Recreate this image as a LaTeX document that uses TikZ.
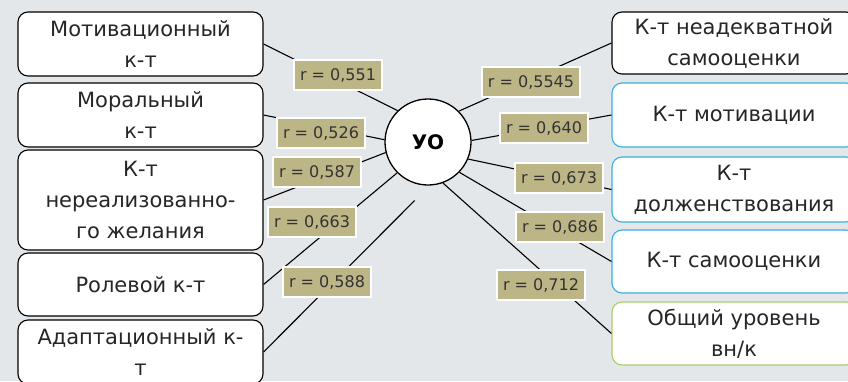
\documentclass[tikz,border=0pt]{standalone}
\usepackage{fontspec}
\setmainfont{DejaVu Sans}
\usepackage{xcolor}

\definecolor{olivebox}{RGB}{188,182,134}
\definecolor{skyline}{RGB}{58,174,222}
\definecolor{greenline}{RGB}{166,206,106}
\definecolor{bggray}{RGB}{228,231,234}

\begin{document}
\begin{tikzpicture}[x=1pt, y=-1pt,
    factor/.style={draw, rounded corners=10pt, fill=white, line width=1.1pt, minimum width=245pt, align=center, inner sep=0pt, font=\fontsize{21}{31}\selectfont, text=black!85},
    rval/.style={draw=white, line width=1.6pt, fill=olivebox, minimum height=30pt, inner xsep=6pt, font=\fontsize{16}{18}\selectfont, text=black!80},
    link/.style={line width=1.1pt}]

    % canvas
    \useasboundingbox (0,0) rectangle (848,381);
    \fill[bggray] (0,0) rectangle (848,381);
    \clip (0,0) rectangle (848,381);

    % centre node
    \node[circle, draw, fill=white, line width=1.3pt, minimum size=86pt, font=\fontsize{20}{22}\selectfont\bfseries] (uo) at (428,142) {УО};

    % left column
    \node[factor, minimum height=64pt] (motiv) at (140.5,44) {Мотивационный\\к-т};
    \node[factor, minimum height=64pt] (moral) at (140.5,115) {Моральный\\к-т};
    \node[factor, minimum height=100pt] (desire) at (140.5,200) {К-т\\нереализованно-\\го желания};
    \node[factor, minimum height=63pt] (role) at (140.5,284.5) {Ролевой к-т};
    \node[factor, minimum height=64pt] (adapt) at (140.5,352) {Адаптационный к-\\т};

    % right column
    \node[factor, minimum width=244pt, minimum height=62pt] (selfbad) at (734,43) {К-т неадекватной\\самооценки};
    \node[factor, draw=skyline, minimum width=244pt, minimum height=64pt] (motivk) at (734,115) {К-т мотивации};
    \node[factor, draw=skyline, minimum width=244pt, minimum height=65pt] (duty) at (734,189.5) {К-т\\долженствования};
    \node[factor, draw=skyline, minimum width=244pt, minimum height=63pt] (selfk) at (734,261.5) {К-т самооценки};
    \node[factor, draw=greenline, minimum width=244pt, minimum height=63pt] (total) at (734,333.5) {Общий уровень\\вн/к};

    % links to the centre
    \draw[link] (motiv.east) -- (uo.134);
    \draw[link] (moral.east) -- (uo.177);
    \draw[link] (desire.east) -- (uo.194);
    \draw[link] (role.east) -- (uo.225);
    \draw[link, shorten >=21pt] (adapt.east) -- (uo.272);
    \draw[link] (uo.45) -- (selfbad.west);
    \draw[link] (uo.2) -- (motivk.west);
    \draw[link] (uo.337) -- (duty.west);
    \draw[link] (uo.316) -- (selfk.west);
    \draw[link] (uo.290) -- (total.west);

    % correlation values
    \node[rval] (r551) at (338,75) {r = 0,551};
    \node[rval] (r526) at (321,133) {r = 0,526};
    \node[rval] (r587) at (317,172) {r = 0,587};
    \node[rval] (r663) at (312,222) {r = 0,663};
    \node[rval] (r588) at (327,282) {r = 0,588};
    \node[rval] (r5545) at (531,82) {r = 0,5545};
    \node[rval] (r640) at (544,128) {r = 0,640};
    \node[rval] (r673) at (559,178) {r = 0,673};
    \node[rval] (r686) at (560,227) {r = 0,686};
    \node[rval] (r712) at (541,285) {r = 0,712};
\end{tikzpicture}
\end{document}
